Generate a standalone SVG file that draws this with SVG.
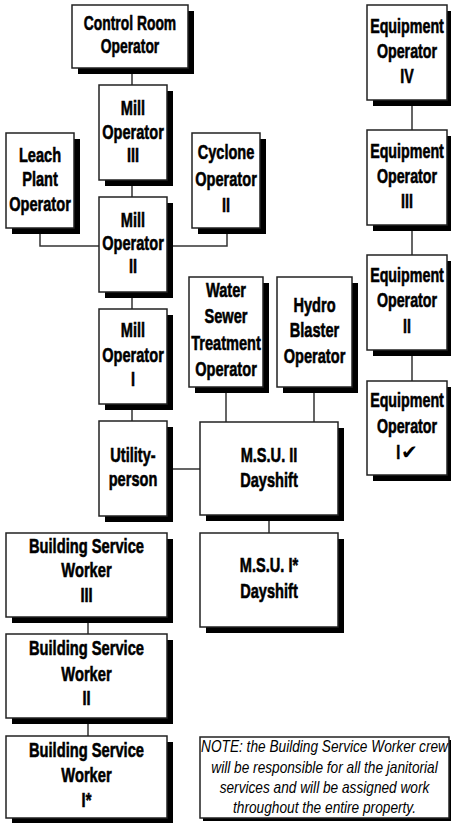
<svg xmlns="http://www.w3.org/2000/svg" width="451" height="823" viewBox="0 0 451 823">
<style>
.bx{fill:#fff;stroke:#222;stroke-width:1.5}
.sh{fill:#000}
.c{fill:none;stroke:#333;stroke-width:1.5}
.t{font-family:"Liberation Sans",Arial,sans-serif;font-weight:bold;font-size:21px;text-anchor:middle;fill:#000;stroke:#000;stroke-width:0.6}
.n{font-family:"Liberation Sans",Arial,sans-serif;font-style:italic;font-size:16px;text-anchor:middle;fill:#000}
.ck{font-family:"DejaVu Sans",sans-serif;font-weight:bold;font-size:20px;fill:#000}
</style>
<rect width="451" height="823" fill="#fff"/>
<g id="connectors">
<path class="c" d="M132 68V85M132 180V197M132 292V309M132 404V421"/>
<path class="c" d="M40 228V246H99M227 228V246H167"/>
<path class="c" d="M167 469H200M226 387V422M314 387V422M269 515V533"/>
<path class="c" d="M412 100V130M412 225V255M412 350V381"/>
<path class="c" d="M88 617V634M88 718V736"/>
</g>
<g id="control-room">
<rect class="sh" x="78" y="11" width="116" height="63"/><rect class="bx" x="72" y="5" width="116" height="63"/>
<g transform="translate(130 0) scale(0.66 1)"><text class="t" x="0" y="30">Control Room</text><text class="t" x="0" y="53">Operator</text></g>
</g>
<g id="mill-3">
<rect class="sh" x="105" y="91" width="68" height="95"/><rect class="bx" x="99" y="85" width="68" height="95"/>
<g transform="translate(133 0) scale(0.695 1)"><text class="t" x="0" y="115">Mill</text><text class="t" x="0" y="139">Operator</text><text class="t" x="0" y="162">III</text></g>
</g>
<g id="leach">
<rect class="sh" x="12" y="139" width="68" height="95"/><rect class="bx" x="6" y="133" width="68" height="95"/>
<g transform="translate(40 0) scale(0.695 1)"><text class="t" x="0" y="162">Leach</text><text class="t" x="0" y="186">Plant</text><text class="t" x="0" y="211">Operator</text></g>
</g>
<g id="cyclone">
<rect class="sh" x="198" y="139" width="68" height="95"/><rect class="bx" x="192" y="133" width="68" height="95"/>
<g transform="translate(226 0) scale(0.695 1)"><text class="t" x="0" y="159">Cyclone</text><text class="t" x="0" y="186">Operator</text><text class="t" x="0" y="212">II</text></g>
</g>
<g id="mill-2">
<rect class="sh" x="105" y="203" width="68" height="95"/><rect class="bx" x="99" y="197" width="68" height="95"/>
<g transform="translate(133 0) scale(0.695 1)"><text class="t" x="0" y="227">Mill</text><text class="t" x="0" y="250">Operator</text><text class="t" x="0" y="273">II</text></g>
</g>
<g id="mill-1">
<rect class="sh" x="105" y="315" width="68" height="95"/><rect class="bx" x="99" y="309" width="68" height="95"/>
<g transform="translate(133 0) scale(0.695 1)"><text class="t" x="0" y="337">Mill</text><text class="t" x="0" y="362">Operator</text><text class="t" x="0" y="386">I</text></g>
</g>
<g id="water">
<rect class="sh" x="195" y="283" width="74" height="110"/><rect class="bx" x="189" y="277" width="74" height="110"/>
<g transform="translate(226 0) scale(0.695 1)"><text class="t" x="0" y="297">Water</text><text class="t" x="0" y="323">Sewer</text><text class="t" x="0" y="350">Treatment</text><text class="t" x="0" y="376">Operator</text></g>
</g>
<g id="hydro">
<rect class="sh" x="283" y="283" width="75" height="110"/><rect class="bx" x="277" y="277" width="75" height="110"/>
<g transform="translate(314.5 0) scale(0.695 1)"><text class="t" x="0" y="312">Hydro</text><text class="t" x="0" y="337">Blaster</text><text class="t" x="0" y="363">Operator</text></g>
</g>
<g id="utility">
<rect class="sh" x="105" y="427" width="68" height="95"/><rect class="bx" x="99" y="421" width="68" height="95"/>
<g transform="translate(133 0) scale(0.695 1)"><text class="t" x="0" y="462">Utility-</text><text class="t" x="0" y="486">person</text></g>
</g>
<g id="msu-2">
<rect class="sh" x="206" y="428" width="138" height="93"/><rect class="bx" x="200" y="422" width="138" height="93"/>
<g transform="translate(269 0) scale(0.695 1)"><text class="t" x="0" y="462">M.S.U. II</text><text class="t" x="0" y="487">Dayshift</text></g>
</g>
<g id="msu-1">
<rect class="sh" x="206" y="539" width="138" height="94"/><rect class="bx" x="200" y="533" width="138" height="94"/>
<g transform="translate(269 0) scale(0.695 1)"><text class="t" x="0" y="572">M.S.U. I*</text><text class="t" x="0" y="598">Dayshift</text></g>
</g>
<g id="equip-4">
<rect class="sh" x="373" y="11" width="80" height="95"/><rect class="bx" x="367" y="5" width="80" height="95"/>
<g transform="translate(407 0) scale(0.68 1)"><text class="t" x="0" y="33">Equipment</text><text class="t" x="0" y="58">Operator</text><text class="t" x="0" y="83">IV</text></g>
</g>
<g id="equip-3">
<rect class="sh" x="373" y="136" width="80" height="95"/><rect class="bx" x="367" y="130" width="80" height="95"/>
<g transform="translate(407 0) scale(0.68 1)"><text class="t" x="0" y="158">Equipment</text><text class="t" x="0" y="183">Operator</text><text class="t" x="0" y="208">III</text></g>
</g>
<g id="equip-2">
<rect class="sh" x="373" y="261" width="80" height="95"/><rect class="bx" x="367" y="255" width="80" height="95"/>
<g transform="translate(407 0) scale(0.68 1)"><text class="t" x="0" y="282">Equipment</text><text class="t" x="0" y="307">Operator</text><text class="t" x="0" y="333">II</text></g>
</g>
<g id="equip-1">
<rect class="sh" x="373" y="387" width="80" height="94"/><rect class="bx" x="367" y="381" width="80" height="94"/>
<g transform="translate(407 0) scale(0.68 1)"><text class="t" x="0" y="407">Equipment</text><text class="t" x="0" y="433">Operator</text><text class="t" x="-13" y="459">I</text></g>
<text class="ck" x="401" y="459">✔</text>
</g>
<g id="bsw-3">
<rect class="sh" x="12" y="539" width="161" height="84"/><rect class="bx" x="6" y="533" width="161" height="84"/>
<g transform="translate(86.5 0) scale(0.7 1)"><text class="t" x="0" y="553">Building Service</text><text class="t" x="0" y="577">Worker</text><text class="t" x="0" y="602">III</text></g>
</g>
<g id="bsw-2">
<rect class="sh" x="12" y="640" width="161" height="84"/><rect class="bx" x="6" y="634" width="161" height="84"/>
<g transform="translate(86.5 0) scale(0.7 1)"><text class="t" x="0" y="655">Building Service</text><text class="t" x="0" y="681">Worker</text><text class="t" x="0" y="705">II</text></g>
</g>
<g id="bsw-1">
<rect class="sh" x="12" y="742" width="161" height="82"/><rect class="bx" x="6" y="736" width="161" height="82"/>
<g transform="translate(86.5 0) scale(0.7 1)"><text class="t" x="0" y="757">Building Service</text><text class="t" x="0" y="782">Worker</text><text class="t" x="0" y="807">I*</text></g>
</g>
<g id="note">
<rect class="sh" x="203" y="740" width="249" height="81"/><rect class="bx" x="200" y="737" width="249" height="81"/>
<g transform="translate(324.5 0) scale(0.855 1)">
<text class="n" x="0" y="752.5">NOTE: the Building Service Worker crew</text>
<text class="n" x="0" y="773">will be responsible for all the janitorial</text>
<text class="n" x="0" y="793">services and will be assigned work</text>
<text class="n" x="0" y="813">throughout the entire property.</text>
</g>
</g>
</svg>
